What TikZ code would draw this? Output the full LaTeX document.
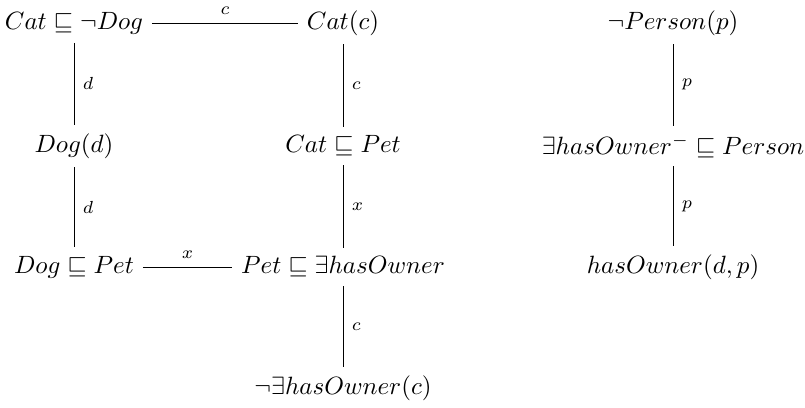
\documentclass[tikz,border=0pt]{standalone}
\usepackage{amssymb}
\begin{document}
\begin{tikzpicture}[x=0.4pt,y=-0.4pt,
  fm/.style={inner sep=3.33pt},
  lbl/.style={font=\scriptsize}]
\useasboundingbox (0,0) rectangle (805,407);
\node[fm] (a) at (74,23) {$Cat \sqsubseteq \neg Dog$};
\node[fm] (b) at (343,23) {$Cat(c)$};
\node[fm] (c) at (74,146) {$Dog(d)$};
\node[fm] (d) at (343,146) {$Cat \sqsubseteq Pet$};
\node[fm] (e) at (74,267) {$Dog \sqsubseteq Pet$};
\node[fm] (f) at (343,267) {$Pet \sqsubseteq \exists hasOwner$};
\node[fm] (g) at (343,388) {$\neg\exists hasOwner(c)$};
\node[fm] (h) at (673,23) {$\neg Person(p)$};
\node[fm] (i) at (673,146) {$\exists hasOwner^- \sqsubseteq Person$};
\node[fm] (j) at (673,267) {$hasOwner(d,p)$};
\draw (a) -- node[lbl,above]{$c$} (b);
\draw (a) -- node[lbl,right]{$d$} (c);
\draw (b) -- node[lbl,right]{$c$} (d);
\draw (c) -- node[lbl,right]{$d$} (e);
\draw (d) -- node[lbl,right]{$x$} (f);
\draw (e) -- node[lbl,above]{$x$} (f);
\draw (f) -- node[lbl,right]{$c$} (g);
\draw (h) -- node[lbl,right]{$p$} (i);
\draw (i) -- node[lbl,right]{$p$} (j);
\end{tikzpicture}
\end{document}
